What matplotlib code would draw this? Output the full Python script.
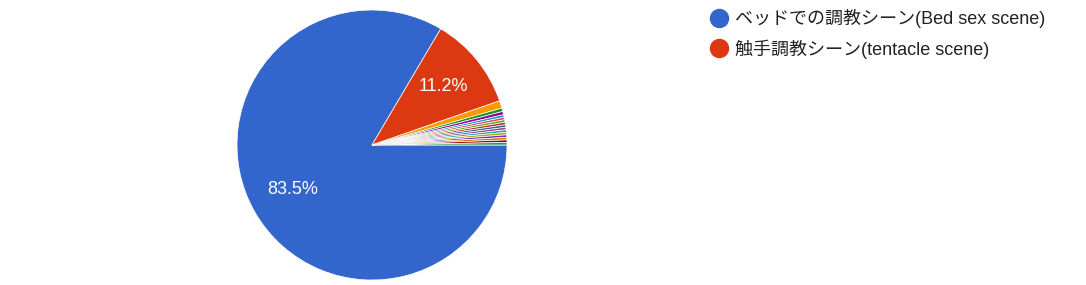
import numpy as np
import matplotlib

matplotlib.use("Agg")
import matplotlib.pyplot as plt
from matplotlib.lines import Line2D

plt.rcParams["font.family"] = ["Liberation Sans", "Noto Sans CJK JP", "DejaVu Sans"]

# ── 数据 ──────────────────────────────────────────────────────────────────────
labels = [
    "ベッドでの調教シーン(Bed sex scene)",
    "触手調教シーン(tentacle scene)",
] + [f"other {i}" for i in range(1, 16)]
values = [83.5, 11.2, 0.9, 0.4, 0.4] + [0.3] * 12
colors = [
    "#3366cc", "#dc3912", "#ff9900", "#109618", "#990099", "#0099c6",
    "#dd4477", "#66aa00", "#b82e2e", "#316395", "#994499", "#22aa99",
    "#aaaa11", "#6633cc", "#e67300", "#8b0707", "#329262",
]
legend_count = 2

W, H = 1086, 285
fig = plt.figure(figsize=(W / 100, H / 100), dpi=100)
cx, cy, r = 372, 140, 135
ax = fig.add_axes([(cx - r) / W, (cy - r) / H, 2 * r / W, 2 * r / H])

wedges, _ = ax.pie(
    values,
    colors=colors,
    startangle=0,
    counterclock=False,
    radius=1.0,
    wedgeprops=dict(edgecolor="white", linewidth=0.5),
)
ax.set_xlim(-1, 1)
ax.set_ylim(-1, 1)
ax.set_aspect("equal")

# 百分比标签（白字）
ax.text(-0.585, -0.333, f"{values[0]}%", color="white", fontsize=13,
        ha="center", va="center")
mid = np.deg2rad(wedges[1].theta1 / 2 + wedges[1].theta2 / 2)
ax.text(0.68 * np.cos(mid), 0.68 * np.sin(mid), f"{values[1]}%",
        color="white", fontsize=13, ha="center", va="center")

# ── 图例 ──────────────────────────────────────────────────────────────────────
handles = [
    Line2D([], [], marker="o", linestyle="", markersize=13,
           markerfacecolor=colors[i], markeredgecolor=colors[i])
    for i in range(legend_count)
]
fig.legend(
    handles, labels[:legend_count],
    loc="upper left", bbox_to_anchor=(698 / W, 1 - 2 / H),
    frameon=False, fontsize=13, handletextpad=0.15,
    labelspacing=0.6, handlelength=1.5, borderaxespad=0,
    labelcolor="#222222",
)

fig.savefig("out.png", dpi=100)
